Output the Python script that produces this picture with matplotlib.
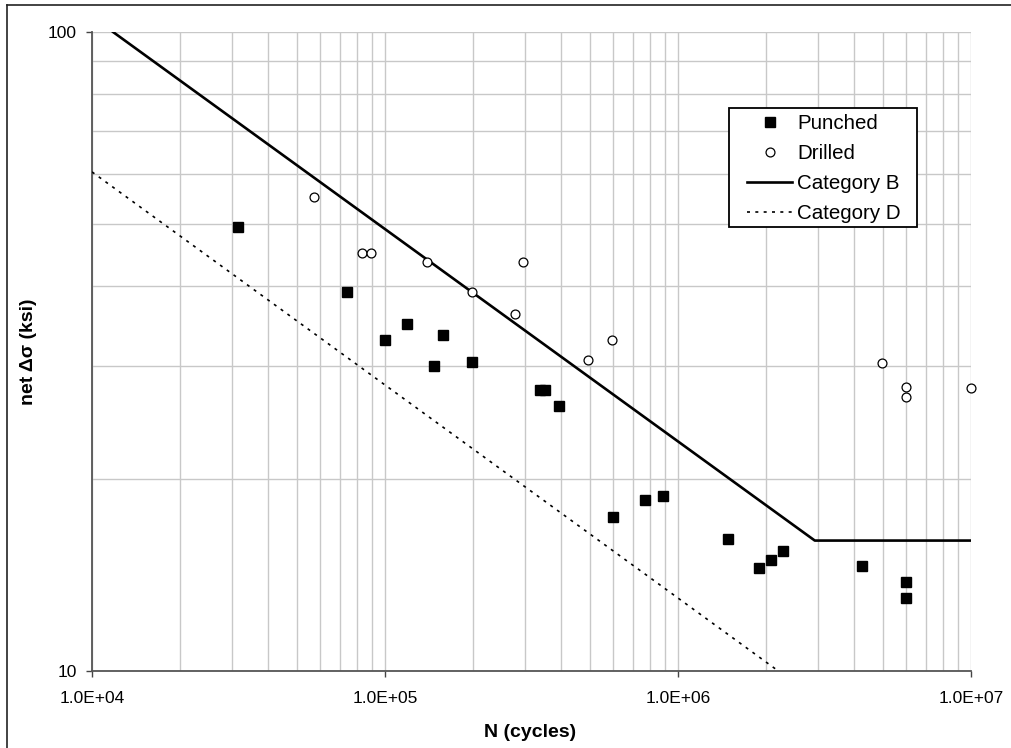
import matplotlib
matplotlib.use("Agg")
import matplotlib.pyplot as plt
from matplotlib.lines import Line2D
from matplotlib.patches import Rectangle
from matplotlib.ticker import NullFormatter
import numpy as np

plt.rcParams['font.family'] = ['Liberation Sans', 'DejaVu Sans']

##############################################################################
# Data

# Punched specimens: cycles and net stress range (ksi)
punched_n = [3.15e4, 7.4e4, 1.0e5, 1.19e5, 1.47e5, 1.58e5, 1.98e5, 3.38e5,
             3.52e5, 3.93e5, 6.0e5, 7.7e5, 8.9e5, 1.48e6, 1.89e6, 2.07e6,
             2.28e6, 4.25e6, 6.0e6, 6.0e6]
punched_s = [49.5, 39.2, 33.0, 34.9, 30.0, 33.5, 30.5, 27.5,
             27.5, 26.0, 17.4, 18.5, 18.8, 16.1, 14.5, 14.9,
             15.4, 14.6, 13.8, 13.0]

# Drilled specimens
drilled_n = [5.73e4, 8.35e4, 8.95e4, 1.39e5, 1.98e5, 2.96e5, 2.78e5,
             4.93e5, 5.96e5, 4.97e6, 6.0e6, 6.0e6, 1.0e7]
drilled_s = [55.2, 45.1, 45.1, 43.6, 39.2, 43.6, 36.2,
             30.7, 33.0, 30.3, 27.8, 26.8, 27.7]

# Design curves (end points / knee points)
cat_b_n = [1.18e4, 2.93e6, 1.0e7]
cat_b_s = [100.0, 16.0, 16.0]
cat_d_n = [1.0e4, 2.2e6]
cat_d_s = [60.4, 10.0]

x_ticks = [1e4, 1e5, 1e6, 1e7]
x_tick_labels = ['1.0E+04', '1.0E+05', '1.0E+06', '1.0E+07']
y_ticks = [10, 100]
y_tick_labels = ['10', '100']

##############################################################################
# Plot

fig = plt.figure(figsize=(10.11, 7.48), dpi=100)
ax = fig.add_axes([92 / 1011, 1 - 671 / 748, 879 / 1011, 639 / 748])

ax.set_xscale('log')
ax.set_yscale('log')
ax.set_xlim(1e4, 1e7)
ax.set_ylim(10, 100)

# Grid lines, major and minor, light gray
grid_color = '#c8c8c8'
ax.grid(True, which='both', axis='both', color=grid_color, linewidth=1.0)
ax.set_axisbelow(True)

ax.set_xticks(x_ticks)
ax.set_xticklabels(x_tick_labels)
ax.set_yticks(y_ticks)
ax.set_yticklabels(y_tick_labels)
ax.xaxis.set_minor_formatter(NullFormatter())
ax.yaxis.set_minor_formatter(NullFormatter())
ax.tick_params(axis='both', which='minor', length=0)
ax.tick_params(axis='both', which='major', direction='out', length=4.5,
               width=1.0, color='#444444', labelsize=12.5)
ax.tick_params(axis='x', pad=10)
ax.tick_params(axis='y', pad=6.5)

for side in ['top', 'right']:
    ax.spines[side].set_visible(False)
for side in ['left', 'bottom']:
    ax.spines[side].set_color('#555555')
    ax.spines[side].set_linewidth(1.3)

# Design curves
ax.plot(cat_b_n, cat_b_s, color='black', linewidth=1.9, label='Category B',
        zorder=3)
ax.plot(cat_d_n, cat_d_s, color='black', linewidth=1.2,
        linestyle=(0, (1.8, 3.2)), label='Category D', zorder=3)

# Test data
ax.plot(punched_n, punched_s, linestyle='none', marker='s', markersize=7.6,
        markerfacecolor='black', markeredgecolor='black', label='Punched',
        zorder=4)
ax.plot(drilled_n, drilled_s, linestyle='none', marker='o', markersize=6.4,
        markerfacecolor='white', markeredgecolor='black',
        markeredgewidth=0.9, label='Drilled', zorder=4, clip_on=False)

# Axis labels
ax.set_xlabel('N (cycles)', fontsize=14, fontweight='bold')
ax.xaxis.set_label_coords(0.498, -0.083)
ax.set_ylabel('net Δσ (ksi)', fontsize=14, fontweight='bold')
ax.yaxis.set_label_coords(-0.063, 0.5)

# Legend box drawn as its own patch so it can be wider than its padding
ax.add_patch(Rectangle((0.7247, 0.6948), 0.2139, 0.1862,
                       transform=ax.transAxes, facecolor='white',
                       edgecolor='black', linewidth=1.3, zorder=5))

# Legend in the order of the reference
handles, labels = ax.get_legend_handles_labels()
order = [labels.index(n) for n in ['Punched', 'Drilled', 'Category B',
                                   'Category D']]
leg = ax.legend([handles[i] for i in order], [labels[i] for i in order],
                loc='upper left', bbox_to_anchor=(0.7452, 0.8712),
                borderaxespad=0, borderpad=0, fontsize=14.8, frameon=False,
                handlelength=2.2, handletextpad=0.24, labelspacing=0.53)
leg.set_zorder(6)

# Outer chart border (left and top edges visible in the reference)
fig.add_artist(Line2D([7 / 1011, 7 / 1011], [0, 1 - 5 / 748],
                      transform=fig.transFigure, color='#222222',
                      linewidth=1.2))
fig.add_artist(Line2D([7 / 1011, 1], [1 - 5 / 748, 1 - 5 / 748],
                      transform=fig.transFigure, color='#222222',
                      linewidth=1.2))

fig.savefig('out.png', dpi=100)
